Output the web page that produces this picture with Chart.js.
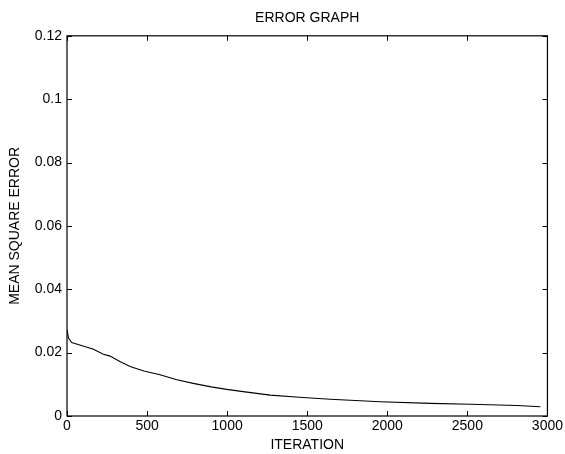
<!DOCTYPE html>
<html>
<head>
<meta charset="utf-8">
<script src="https://cdn.jsdelivr.net/npm/chart.js@4.4.0/dist/chart.umd.min.js"></script>
<style>
  html, body { margin: 0; padding: 0; background: #fff; }
  #wrap { width: 565px; height: 454px; }
</style>
</head>
<body>
<div id="wrap"><canvas id="myChart" width="565" height="454"></canvas></div>
<script>
// data
const iterations = [0, 10, 29, 80, 165, 227, 269, 330, 394, 480, 581, 680, 788, 900, 998, 1100, 1269, 1450, 1644, 1800, 1956, 2269, 2519, 2810, 2956];
const mseValues = [0.0272, 0.0245, 0.0232, 0.0224, 0.0211, 0.0195, 0.0189, 0.0172, 0.0156, 0.0142, 0.0130, 0.0115, 0.0103, 0.0092, 0.0084, 0.0077, 0.0066, 0.0059, 0.0053, 0.0049, 0.0045, 0.0040, 0.0037, 0.0033, 0.0029];
const xTicks = [0, 500, 1000, 1500, 2000, 2500, 3000];
const xTickLabels = ['0', '500', '1000', '1500', '2000', '2500', '3000'];
const yTicks = [0, 0.02, 0.04, 0.06, 0.08, 0.1, 0.12];
const yTickLabels = ['0', '0.02', '0.04', '0.06', '0.08', '0.1', '0.12'];

const font = { family: 'Liberation Sans, Arial, sans-serif', size: 14 };

// tick marks pointing inward on all four sides, like matlab
const innerTicks = {
    id: 'innerTicks',
    afterDraw(chart) {
        const { ctx, chartArea: a, scales } = chart;
        const len = 5;
        ctx.save();
        ctx.strokeStyle = '#000';
        ctx.lineWidth = 1;
        ctx.beginPath();
        xTicks.forEach(v => {
            const px = Math.round(scales.x.getPixelForValue(v)) + 0.5;
            ctx.moveTo(px, a.bottom); ctx.lineTo(px, a.bottom - len);
            ctx.moveTo(px, a.top); ctx.lineTo(px, a.top + len);
        });
        yTicks.forEach(v => {
            const py = Math.round(scales.y.getPixelForValue(v)) + 0.5;
            ctx.moveTo(a.left, py); ctx.lineTo(a.left + len, py);
            ctx.moveTo(a.right, py); ctx.lineTo(a.right - len, py);
        });
        ctx.stroke();
        ctx.lineWidth = 1.2;
        ctx.strokeRect(a.left, a.top, a.right - a.left, a.bottom - a.top);
        ctx.restore();
    }
};

const ctx = document.getElementById('myChart').getContext('2d');
const myChart = new Chart(ctx, {
    type: 'line',
    data: {
        datasets: [{
            data: iterations.map((x, i) => ({ x: x, y: mseValues[i] })),
            borderColor: '#000',
            borderWidth: 1.1,
            pointRadius: 0,
            tension: 0,
            fill: false
        }]
    },
    options: {
        responsive: false,
        animation: false,
        layout: { padding: { left: 4, right: 17, top: 5, bottom: 0 } },
        plugins: {
            legend: { display: false },
            tooltip: { enabled: false },
            title: {
                display: true,
                fullSize: false, // centre over the plot box, not the canvas
                text: 'ERROR GRAPH',
                color: '#000',
                font: { family: font.family, size: 14, weight: 'normal' },
                padding: { top: 5, bottom: 9 }
            }
        },
        scales: {
            x: {
                type: 'linear',
                min: 0,
                max: 3000,
                afterBuildTicks: s => { s.ticks = xTicks.map(v => ({ value: v })); },
                afterFit: s => { s.height = 38; },
                grid: { display: false, drawTicks: false },
                border: { display: false },
                ticks: {
                    color: '#000',
                    font: font,
                    padding: 2,
                    maxRotation: 0,
                    callback: (v, i) => xTickLabels[i]
                },
                title: {
                    display: true,
                    text: 'ITERATION',
                    color: '#000',
                    font: font,
                    padding: { top: 0, bottom: 0 }
                }
            },
            y: {
                type: 'linear',
                min: 0,
                max: 0.12,
                afterBuildTicks: s => { s.ticks = yTicks.map(v => ({ value: v })); },
                afterFit: s => { s.width = 63; },
                grid: { display: false, drawTicks: false },
                border: { display: false },
                ticks: {
                    color: '#000',
                    font: font,
                    padding: 5,
                    callback: (v, i) => yTickLabels[i]
                },
                title: {
                    display: true,
                    text: 'MEAN SQUARE ERROR',
                    color: '#000',
                    font: font,
                    padding: { top: 3, bottom: 4 }
                }
            }
        }
    },
    plugins: [innerTicks]
});
</script>
</body>
</html>
